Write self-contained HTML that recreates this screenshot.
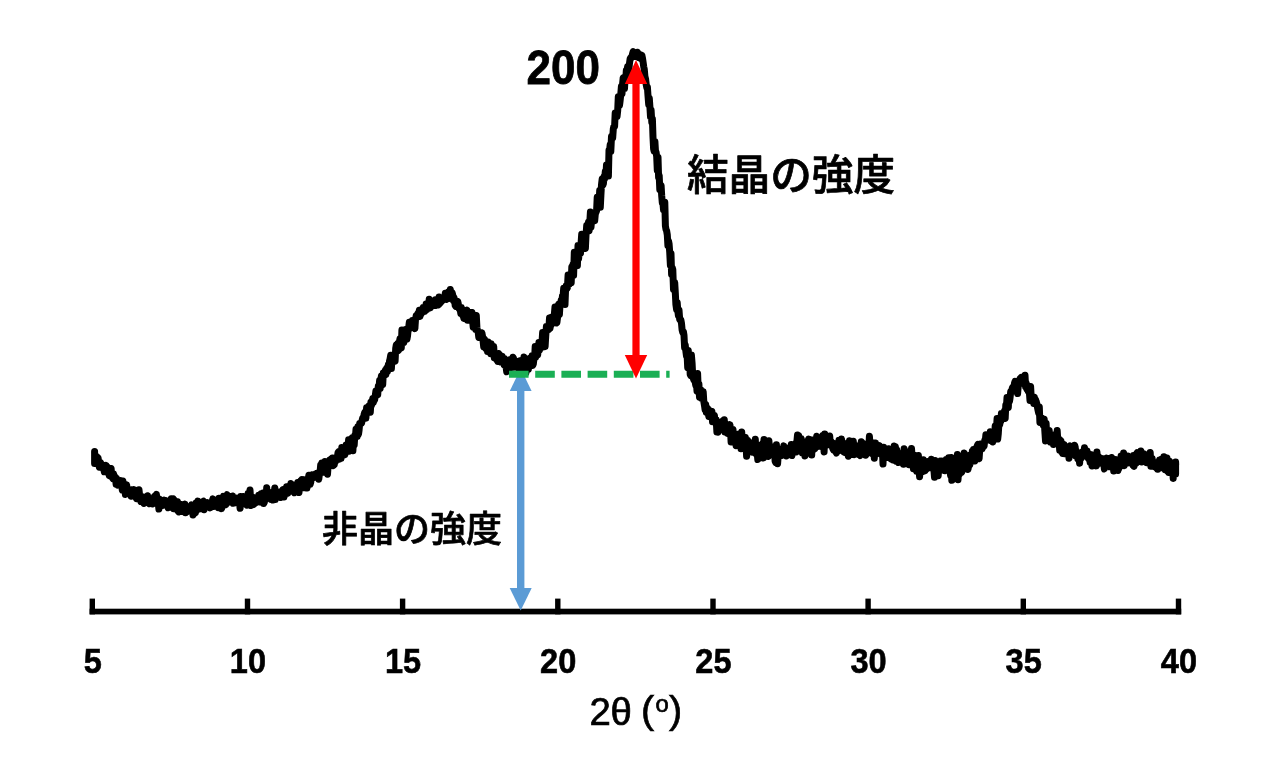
<!DOCTYPE html>
<html lang="ja">
<head>
<meta charset="utf-8">
<title>XRD</title>
<style>
html,body{margin:0;padding:0;background:#fff;}
body{width:1280px;height:777px;overflow:hidden;position:relative;font-family:"Liberation Sans","Noto Sans CJK JP",sans-serif;}
svg{position:absolute;left:0;top:0;display:block;}
.ax text{font-family:"Liberation Sans",sans-serif;font-weight:bold;font-size:35px;fill:#000;stroke:#000;stroke-width:0.6px;}
.jp{font-family:"Liberation Sans","Noto Sans CJK JP",sans-serif;font-weight:500;fill:#000;stroke:#000;stroke-width:0.7px;stroke-linejoin:round;}
</style>
</head>
<body>
<svg width="1280" height="777" viewBox="0 0 1280 777">
<rect width="1280" height="777" fill="#fff"/>
<!-- axis -->
<rect x="89.6" y="608.7" width="1091.6" height="5.7" fill="#000"/>
<rect x="89.6" y="598.6" width="5.4" height="15.8" fill="#000"/><rect x="244.8" y="598.6" width="5.4" height="15.8" fill="#000"/><rect x="399.9" y="598.6" width="5.4" height="15.8" fill="#000"/><rect x="555.1" y="598.6" width="5.4" height="15.8" fill="#000"/><rect x="710.3" y="598.6" width="5.4" height="15.8" fill="#000"/><rect x="865.4" y="598.6" width="5.4" height="15.8" fill="#000"/><rect x="1020.6" y="598.6" width="5.4" height="15.8" fill="#000"/><rect x="1175.8" y="598.6" width="5.4" height="15.8" fill="#000"/>
<g class="ax"><text transform="translate(92.7,672.6) scale(0.93,1)" text-anchor="middle">5</text><text transform="translate(247.9,672.6) scale(0.93,1)" text-anchor="middle">10</text><text transform="translate(403.0,672.6) scale(0.93,1)" text-anchor="middle">15</text><text transform="translate(558.2,672.6) scale(0.93,1)" text-anchor="middle">20</text><text transform="translate(713.4,672.6) scale(0.93,1)" text-anchor="middle">25</text><text transform="translate(868.5,672.6) scale(0.93,1)" text-anchor="middle">30</text><text transform="translate(1023.7,672.6) scale(0.93,1)" text-anchor="middle">35</text><text transform="translate(1178.9,672.6) scale(0.93,1)" text-anchor="middle">40</text></g>
<!-- blue arrow -->
<g fill="#5b9bd5">
<rect x="517" y="388" width="7.4" height="202"/>
<polygon points="520.7,368.6 531.6,391 509.8,391"/>
<polygon points="520.7,610.5 531.7,588 509.7,588"/>
</g>
<!-- curve -->
<path d="M94.6,451.5 94.6,463.5 95.0,458.0 95.6,459.3 96.2,458.0 96.9,456.6 97.5,458.8 98.1,457.9 98.7,462.1 99.3,467.2 100.0,462.2 100.6,462.7 101.2,467.2 101.8,467.7 102.4,467.7 103.1,465.1 103.7,468.7 104.3,471.7 104.9,465.8 105.5,469.4 106.2,465.4 106.8,468.1 107.4,466.9 108.0,472.8 108.6,470.1 109.3,475.7 109.9,475.9 110.5,475.4 111.1,468.4 111.7,475.4 112.4,477.6 113.0,478.6 113.6,473.8 114.2,477.7 114.8,476.6 115.5,477.6 116.1,484.2 116.7,478.6 117.3,481.6 117.9,485.1 118.6,480.8 119.2,482.8 119.8,484.0 120.4,484.3 121.0,480.6 121.7,485.3 122.3,490.0 122.9,481.0 123.5,489.3 124.1,487.3 124.8,485.3 125.4,494.4 126.0,490.8 126.6,484.8 127.2,489.4 127.9,491.5 128.5,489.4 129.1,492.6 129.7,490.6 130.3,493.4 131.0,496.3 131.6,489.8 132.2,493.0 132.8,491.2 133.4,493.5 134.1,489.6 134.7,491.9 135.3,493.5 135.9,497.5 136.5,498.7 137.2,490.9 137.8,493.0 138.4,498.1 139.0,489.8 139.6,495.2 140.3,496.7 140.9,501.5 141.5,499.9 142.1,496.8 142.7,496.9 143.4,497.5 144.0,503.5 144.6,497.3 145.2,497.9 145.8,500.2 146.5,498.8 147.1,498.7 147.7,495.8 148.3,499.6 148.9,498.3 149.6,503.7 150.2,502.2 150.8,500.1 151.4,502.5 152.0,499.3 152.7,504.0 153.3,500.6 153.9,502.6 154.5,496.6 155.1,502.1 155.8,495.5 156.4,494.4 157.0,500.3 157.6,498.4 158.2,502.1 158.9,509.1 159.5,499.1 160.1,500.0 160.7,503.0 161.3,504.1 162.0,502.1 162.6,502.2 163.2,505.4 163.8,505.0 164.4,500.1 165.1,503.5 165.7,504.0 166.3,500.6 166.9,505.1 167.5,501.6 168.2,507.8 168.8,505.4 169.4,505.2 170.0,503.1 170.6,504.8 171.3,498.7 171.9,501.7 172.5,506.9 173.1,498.7 173.7,508.8 174.4,500.3 175.0,508.8 175.6,503.6 176.2,509.1 176.8,507.1 177.5,501.7 178.1,511.1 178.7,511.9 179.3,507.0 179.9,506.5 180.6,507.0 181.2,504.4 181.8,511.4 182.4,506.1 183.0,507.8 183.7,505.5 184.3,506.2 184.9,504.1 185.5,512.7 186.1,508.1 186.8,512.0 187.4,508.9 188.0,506.7 188.6,508.0 189.2,507.3 189.9,509.3 190.5,508.1 191.1,508.4 191.7,504.9 192.3,506.8 193.0,515.0 193.6,507.1 194.2,505.5 194.8,509.9 195.4,513.1 196.1,503.1 196.7,506.9 197.3,505.2 197.9,501.1 198.5,509.3 199.2,506.5 199.8,506.6 200.4,503.7 201.0,507.6 201.6,504.0 202.3,505.2 202.9,501.8 203.5,501.3 204.1,509.7 204.7,503.3 205.4,505.9 206.0,504.7 206.6,503.2 207.2,502.8 207.8,506.5 208.5,503.3 209.1,503.7 209.7,504.1 210.3,507.9 210.9,506.2 211.6,505.0 212.2,501.7 212.8,498.9 213.4,506.6 214.0,506.6 214.7,502.7 215.3,504.9 215.9,505.6 216.5,505.7 217.1,505.9 217.8,501.1 218.4,507.7 219.0,498.2 219.6,505.3 220.2,504.0 220.9,505.2 221.5,508.6 222.1,507.2 222.7,498.2 223.3,496.4 224.0,504.8 224.6,498.6 225.2,501.9 225.8,504.8 226.4,496.3 227.1,494.7 227.7,502.7 228.3,502.0 228.9,500.9 229.5,501.9 230.2,498.8 230.8,496.5 231.4,501.1 232.0,498.3 232.6,496.0 233.3,503.3 233.9,501.4 234.5,502.9 235.1,498.2 235.7,499.3 236.4,498.1 237.0,498.4 237.6,502.1 238.2,498.8 238.8,502.6 239.5,502.6 240.1,508.3 240.7,496.6 241.3,504.4 241.9,501.0 242.6,501.3 243.2,496.4 243.8,499.7 244.4,503.8 245.0,501.0 245.7,501.5 246.3,500.2 246.9,505.2 247.5,501.1 248.1,493.6 248.8,498.8 249.4,494.4 250.0,489.9 250.6,499.3 251.2,505.6 251.9,501.2 252.5,496.9 253.1,497.6 253.7,504.6 254.3,501.1 255.0,500.5 255.6,499.9 256.2,500.0 256.8,502.4 257.4,501.3 258.1,499.9 258.7,495.3 259.3,500.5 259.9,496.2 260.5,502.1 261.2,493.8 261.8,497.5 262.4,497.8 263.0,493.1 263.6,503.5 264.3,502.4 264.9,495.6 265.5,499.7 266.1,498.2 266.7,487.7 267.4,497.4 268.0,496.1 268.6,496.5 269.2,492.3 269.8,494.9 270.5,495.0 271.1,499.5 271.7,496.4 272.3,495.0 272.9,500.1 273.6,492.7 274.2,493.1 274.8,487.9 275.4,499.5 276.0,497.2 276.7,496.8 277.3,495.8 277.9,493.6 278.5,493.8 279.1,492.0 279.8,492.0 280.4,492.7 281.0,497.6 281.6,494.1 282.2,491.7 282.9,489.7 283.5,489.4 284.1,496.9 284.7,492.9 285.3,491.2 286.0,489.6 286.6,486.7 287.2,490.1 287.8,493.2 288.4,488.6 289.1,488.9 289.7,488.7 290.3,489.6 290.9,483.5 291.5,488.0 292.2,485.6 292.8,491.4 293.4,485.3 294.0,489.8 294.6,492.8 295.3,486.1 295.9,484.9 296.5,487.4 297.1,486.4 297.7,482.6 298.4,487.4 299.0,492.6 299.6,484.3 300.2,484.2 300.8,480.9 301.5,485.4 302.1,479.6 302.7,479.7 303.3,487.8 303.9,479.8 304.6,486.4 305.2,487.6 305.8,482.8 306.4,483.5 307.0,488.1 307.7,480.1 308.3,478.3 308.9,475.2 309.5,479.7 310.1,484.4 310.8,482.1 311.4,474.9 312.0,474.8 312.6,475.5 313.2,477.9 313.9,475.7 314.5,476.7 315.1,476.5 315.7,473.9 316.3,474.3 317.0,474.7 317.6,473.2 318.2,474.8 318.8,479.2 319.4,474.1 320.1,471.7 320.7,464.9 321.3,471.9 321.9,463.0 322.5,464.5 323.2,472.2 323.8,471.2 324.4,467.7 325.0,461.6 325.6,466.0 326.3,464.4 326.9,468.7 327.5,474.2 328.1,466.3 328.7,462.2 329.4,460.3 330.0,463.9 330.6,463.0 331.2,459.0 331.8,463.1 332.5,458.0 333.1,465.8 333.7,465.1 334.3,464.7 334.9,458.5 335.6,461.6 336.2,458.7 336.8,457.2 337.4,456.8 338.0,452.7 338.7,451.6 339.3,459.3 339.9,455.1 340.5,456.0 341.1,458.4 341.8,447.6 342.4,450.6 343.0,453.5 343.6,453.7 344.2,450.2 344.9,454.8 345.5,451.1 346.1,445.1 346.7,445.5 347.3,451.3 348.0,449.3 348.6,439.7 349.2,451.2 349.8,447.6 350.4,449.6 351.1,442.3 351.7,441.8 352.3,437.8 352.9,450.7 353.5,439.5 354.2,445.1 354.8,435.5 355.4,437.4 356.0,429.2 356.6,432.8 357.3,436.6 357.9,426.7 358.5,434.2 359.1,430.0 359.7,423.4 360.4,424.0 361.0,422.9 361.6,423.1 362.2,420.0 362.8,417.7 363.5,418.4 364.1,414.5 364.7,412.3 365.3,415.8 365.9,418.2 366.6,407.7 367.2,412.4 367.8,408.7 368.4,406.3 369.0,412.1 369.7,405.6 370.3,412.2 370.9,402.2 371.5,405.5 372.1,401.8 372.8,398.5 373.4,402.5 374.0,398.3 374.6,400.0 375.2,396.2 375.9,390.9 376.5,393.4 377.1,392.7 377.7,394.9 378.3,386.3 379.0,388.4 379.6,380.5 380.2,388.4 380.8,380.3 381.4,376.1 382.1,381.6 382.7,384.8 383.3,373.1 383.9,373.4 384.5,373.4 385.2,370.4 385.8,374.9 386.4,368.8 387.0,367.7 387.6,371.5 388.3,364.8 388.9,368.1 389.5,361.2 390.1,358.9 390.7,355.2 391.4,368.6 392.0,358.6 392.6,359.6 393.2,357.2 393.8,356.7 394.5,355.1 395.1,361.2 395.7,348.3 396.3,345.0 396.9,346.0 397.6,343.5 398.2,350.7 398.8,349.9 399.4,341.7 400.0,338.8 400.7,341.9 401.3,347.9 401.9,330.0 402.5,342.5 403.1,335.0 403.8,342.6 404.4,333.1 405.0,335.3 405.6,329.5 406.2,330.7 406.9,339.3 407.5,336.1 408.1,330.2 408.7,327.4 409.3,322.3 410.0,327.5 410.6,328.0 411.2,326.8 411.8,325.7 412.4,320.5 413.1,323.7 413.7,322.8 414.3,327.2 414.9,328.5 415.5,319.3 416.2,315.7 416.8,317.7 417.4,314.5 418.0,313.2 418.6,315.2 419.3,310.4 419.9,316.6 420.5,313.1 421.1,314.1 421.7,311.8 422.4,309.1 423.0,307.7 423.6,310.3 424.2,308.6 424.8,311.4 425.5,310.1 426.1,304.1 426.7,309.7 427.3,303.4 427.9,306.1 428.6,307.1 429.2,299.3 429.8,308.0 430.4,307.9 431.0,306.2 431.7,304.8 432.3,304.7 432.9,301.9 433.5,304.5 434.1,303.0 434.8,305.4 435.4,299.7 436.0,305.4 436.6,304.7 437.2,303.2 437.9,301.8 438.5,305.0 439.1,297.1 439.7,303.7 440.3,302.5 441.0,301.9 441.6,301.5 442.2,298.1 442.8,298.4 443.4,300.0 444.1,299.0 444.7,298.1 445.3,293.3 445.9,298.1 446.5,299.3 447.2,298.7 447.8,296.6 448.4,292.1 449.0,298.4 449.6,295.6 450.3,289.6 450.9,297.0 451.5,292.2 452.1,292.7 452.7,294.8 453.4,300.5 454.0,297.5 454.6,300.4 455.2,305.5 455.8,306.3 456.5,302.9 457.1,303.5 457.7,301.3 458.3,303.9 458.9,308.4 459.6,309.3 460.2,309.3 460.8,313.6 461.4,307.5 462.0,311.3 462.7,315.4 463.3,315.6 463.9,318.4 464.5,316.3 465.1,314.0 465.8,317.4 466.4,312.3 467.0,310.2 467.6,320.2 468.2,318.1 468.9,320.2 469.5,312.3 470.1,318.5 470.7,318.1 471.3,317.7 472.0,312.5 472.6,321.2 473.2,327.1 473.8,325.7 474.4,322.3 475.1,325.4 475.7,329.4 476.3,315.4 476.9,327.3 477.5,330.9 478.2,332.3 478.8,337.4 479.4,335.9 480.0,333.3 480.6,334.2 481.3,337.3 481.9,332.8 482.5,336.1 483.1,341.2 483.7,346.8 484.4,339.1 485.0,340.7 485.6,342.9 486.2,348.8 486.8,344.1 487.5,351.4 488.1,342.0 488.7,346.2 489.3,346.9 489.9,351.8 490.6,353.7 491.2,343.7 491.8,346.9 492.4,352.8 493.0,349.3 493.7,346.4 494.3,357.7 494.9,356.1 495.5,356.6 496.1,353.1 496.8,360.0 497.4,355.2 498.0,361.4 498.6,353.5 499.2,354.2 499.9,359.2 500.5,355.8 501.1,362.1 501.7,360.7 502.3,356.2 503.0,360.7 503.6,359.3 504.2,364.9 504.8,358.7 505.4,359.9 506.1,367.1 506.7,371.7 507.3,370.9 507.9,363.0 508.5,363.9 509.2,369.7 509.8,362.9 510.4,359.5 511.0,364.3 511.6,365.8 512.3,360.6 512.9,357.3 513.5,358.2 514.1,367.2 514.7,361.3 515.4,364.0 516.0,365.6 516.6,367.4 517.2,363.4 517.8,367.0 518.5,361.2 519.1,363.5 519.7,360.7 520.3,369.7 520.9,364.8 521.6,361.7 522.2,363.1 522.8,363.3 523.4,366.9 524.0,356.9 524.7,358.9 525.3,361.2 525.9,373.0 526.5,366.0 527.1,361.1 527.8,364.1 528.4,369.4 529.0,359.4 529.6,358.4 530.2,364.5 530.9,361.0 531.5,361.3 532.1,355.8 532.7,365.5 533.3,364.0 534.0,358.6 534.6,358.4 535.2,346.4 535.8,356.9 536.4,352.6 537.1,354.5 537.7,354.6 538.3,349.3 538.9,342.6 539.5,350.2 540.2,344.4 540.8,344.9 541.4,342.5 542.0,342.4 542.6,332.6 543.3,346.9 543.9,341.4 544.5,344.0 545.1,346.7 545.7,336.5 546.4,326.6 547.0,329.4 547.6,326.4 548.2,328.3 548.8,329.6 549.5,318.1 550.1,328.0 550.7,317.4 551.3,325.0 551.9,321.6 552.6,319.2 553.2,319.1 553.8,315.4 554.4,313.8 555.0,306.9 555.7,314.3 556.3,323.0 556.9,322.6 557.5,317.8 558.1,313.1 558.8,304.2 559.4,314.5 560.0,304.7 560.6,303.1 561.2,300.2 561.9,300.6 562.5,295.8 563.1,296.1 563.7,288.3 564.3,290.6 565.0,304.5 565.6,288.7 566.2,285.8 566.8,288.6 567.4,287.9 568.1,275.0 568.7,278.8 569.3,284.1 569.9,278.3 570.5,275.6 571.2,282.8 571.8,267.0 572.4,270.1 573.0,264.6 573.6,275.5 574.3,252.2 574.9,258.6 575.5,257.9 576.1,263.9 576.7,262.0 577.4,265.6 578.0,245.5 578.6,258.7 579.2,250.8 579.8,247.1 580.5,253.4 581.1,242.9 581.7,234.2 582.3,243.6 582.9,235.1 583.6,239.0 584.2,243.9 584.8,241.9 585.4,248.4 586.0,235.4 586.7,225.4 587.3,228.5 587.9,225.8 588.5,222.1 589.1,230.8 589.8,222.2 590.4,212.1 591.0,227.2 591.6,220.3 592.2,221.6 592.9,218.4 593.5,220.1 594.1,214.7 594.7,220.7 595.3,214.0 596.0,212.2 596.6,210.7 597.2,197.3 597.8,203.7 598.4,201.3 599.1,202.4 599.7,190.5 600.3,207.3 600.9,195.3 601.5,184.6 602.2,178.9 602.8,185.2 603.4,183.6 604.0,176.8 604.6,179.0 605.3,171.5 605.9,176.0 606.5,165.0 607.1,166.2 607.7,169.4 608.4,176.1 609.0,150.2 609.6,150.3 610.2,144.7 610.8,151.7 611.5,136.5 612.1,137.7 612.7,137.7 613.3,128.9 613.9,126.2 614.6,126.3 615.2,113.0 615.8,114.0 616.4,117.0 617.0,116.8 617.7,110.7 618.3,96.7 618.9,101.1 619.5,105.5 620.1,100.8 620.8,94.1 621.4,86.6 622.0,93.8 622.6,83.8 623.2,77.7 623.9,77.4 624.5,88.5 625.1,78.6 625.7,80.8 626.3,70.6 627.0,74.5 627.6,66.5 628.2,66.2 628.8,71.0 629.4,64.0 630.1,59.0 630.7,57.6 631.3,57.0 631.9,57.5 632.5,53.9 633.2,51.5 633.8,53.9 634.4,54.2 635.0,54.3 635.6,56.3 636.3,54.5 636.9,55.4 637.5,52.2 638.1,55.5 638.7,57.7 639.4,55.6 640.0,54.9 640.6,55.1 641.2,58.6 641.8,55.1 642.5,58.3 643.1,62.3 643.7,66.6 644.3,69.5 644.9,76.3 645.6,79.1 646.2,84.5 646.8,87.5 647.4,87.0 648.0,95.7 648.7,104.4 649.3,98.3 649.9,106.7 650.5,116.7 651.1,110.1 651.8,122.4 652.4,119.0 653.0,137.1 653.6,148.9 654.2,151.3 654.9,141.4 655.5,151.7 656.1,152.2 656.7,156.6 657.3,170.4 658.0,157.2 658.6,177.3 659.2,175.4 659.8,189.5 660.4,186.4 661.1,185.4 661.7,195.7 662.3,202.8 662.9,202.6 663.5,209.8 664.2,207.9 664.8,202.3 665.4,226.0 666.0,229.4 666.6,230.7 667.3,234.9 667.9,245.6 668.5,240.9 669.1,244.0 669.7,251.9 670.4,265.2 671.0,253.6 671.6,274.5 672.2,267.6 672.8,269.5 673.5,289.3 674.1,285.5 674.7,282.5 675.3,292.6 675.9,304.5 676.6,309.5 677.2,302.4 677.8,310.7 678.4,315.7 679.0,310.1 679.7,319.5 680.3,320.2 680.9,320.1 681.5,323.4 682.1,329.9 682.8,332.6 683.4,331.7 684.0,335.3 684.6,347.7 685.2,344.7 685.9,351.5 686.5,356.0 687.1,354.7 687.7,367.7 688.3,350.6 689.0,363.2 689.6,358.5 690.2,374.4 690.8,375.6 691.4,355.0 692.1,363.4 692.7,375.6 693.3,378.4 693.9,380.1 694.5,377.2 695.2,382.2 695.8,385.2 696.4,382.7 697.0,390.9 697.6,373.4 698.3,392.0 698.9,384.0 699.5,397.0 700.1,391.8 700.7,389.6 701.4,398.2 702.0,392.5 702.6,393.9 703.2,391.7 703.8,401.5 704.5,405.6 705.1,409.7 705.7,404.6 706.3,412.1 706.9,407.8 707.6,408.3 708.2,412.9 708.8,416.4 709.4,410.3 710.0,411.8 710.7,413.2 711.3,415.3 711.9,411.4 712.5,421.8 713.1,415.7 713.8,420.8 714.4,415.4 715.0,421.9 715.6,422.8 716.2,419.8 716.9,432.0 717.5,425.0 718.1,432.2 718.7,429.0 719.3,422.3 720.0,424.2 720.6,428.5 721.2,427.4 721.8,427.9 722.4,427.0 723.1,420.7 723.7,428.3 724.3,419.8 724.9,432.0 725.5,427.5 726.2,428.0 726.8,430.7 727.4,433.4 728.0,426.1 728.6,425.1 729.3,428.6 729.9,424.6 730.5,429.9 731.1,442.0 731.7,430.3 732.4,438.5 733.0,429.6 733.6,437.6 734.2,435.1 734.8,436.7 735.5,439.9 736.1,445.7 736.7,438.9 737.3,438.9 737.9,434.3 738.6,441.8 739.2,438.3 739.8,443.7 740.4,440.1 741.0,448.8 741.7,432.0 742.3,440.2 742.9,446.2 743.5,440.9 744.1,439.3 744.8,442.3 745.4,437.5 746.0,445.0 746.6,456.3 747.2,450.7 747.9,440.6 748.5,442.0 749.1,444.6 749.7,451.6 750.3,443.3 751.0,444.3 751.6,452.0 752.2,452.2 752.8,446.8 753.4,443.6 754.1,441.9 754.7,446.2 755.3,439.2 755.9,453.6 756.5,447.3 757.2,452.8 757.8,459.6 758.4,456.4 759.0,445.5 759.6,455.1 760.3,456.5 760.9,447.4 761.5,446.5 762.1,450.5 762.7,443.4 763.4,458.0 764.0,439.6 764.6,445.7 765.2,449.7 765.8,449.9 766.5,451.8 767.1,452.3 767.7,450.0 768.3,456.4 768.9,440.8 769.6,451.0 770.2,447.6 770.8,451.6 771.4,452.1 772.0,446.8 772.7,448.1 773.3,455.0 773.9,453.0 774.5,448.2 775.1,461.2 775.8,462.6 776.4,444.7 777.0,453.2 777.6,463.8 778.2,455.6 778.9,453.0 779.5,451.0 780.1,449.4 780.7,451.0 781.3,449.3 782.0,455.4 782.6,449.9 783.2,449.6 783.8,445.9 784.4,451.2 785.1,447.1 785.7,450.3 786.3,456.0 786.9,452.6 787.5,453.1 788.2,452.2 788.8,450.6 789.4,449.6 790.0,448.5 790.6,453.4 791.3,444.4 791.9,455.6 792.5,449.1 793.1,445.0 793.7,445.8 794.4,444.5 795.0,448.1 795.6,443.6 796.2,452.0 796.8,442.5 797.5,435.1 798.1,442.1 798.7,435.8 799.3,445.0 799.9,450.1 800.6,448.0 801.2,438.4 801.8,441.1 802.4,453.1 803.0,446.0 803.7,444.5 804.3,449.4 804.9,456.0 805.5,450.4 806.1,444.8 806.8,445.8 807.4,447.0 808.0,441.1 808.6,439.0 809.2,444.3 809.9,439.5 810.5,443.7 811.1,444.5 811.7,455.1 812.3,439.9 813.0,443.4 813.6,443.2 814.2,446.1 814.8,449.0 815.4,441.7 816.1,440.1 816.7,436.2 817.3,439.6 817.9,446.6 818.5,444.2 819.2,439.2 819.8,442.2 820.4,444.2 821.0,446.4 821.6,441.2 822.3,442.9 822.9,435.5 823.5,438.7 824.1,451.9 824.7,433.9 825.4,442.8 826.0,445.5 826.6,442.8 827.2,440.8 827.8,444.4 828.5,444.8 829.1,444.5 829.7,436.0 830.3,444.3 830.9,441.1 831.6,442.6 832.2,446.5 832.8,448.6 833.4,449.9 834.0,443.4 834.7,450.3 835.3,451.7 835.9,451.6 836.5,453.0 837.1,445.8 837.8,445.8 838.4,450.7 839.0,440.3 839.6,447.9 840.2,444.5 840.9,445.4 841.5,438.9 842.1,443.0 842.7,447.2 843.3,451.6 844.0,452.2 844.6,447.1 845.2,446.7 845.8,443.7 846.4,449.6 847.1,446.5 847.7,450.7 848.3,456.2 848.9,447.7 849.5,440.8 850.2,443.9 850.8,441.1 851.4,442.5 852.0,454.4 852.6,449.4 853.3,441.2 853.9,451.6 854.5,454.6 855.1,446.9 855.7,445.5 856.4,447.2 857.0,450.2 857.6,451.9 858.2,454.6 858.8,454.7 859.5,454.6 860.1,455.5 860.7,452.1 861.3,441.7 861.9,448.3 862.6,450.3 863.2,446.9 863.8,453.0 864.4,446.9 865.0,444.1 865.7,455.3 866.3,451.5 866.9,449.3 867.5,452.6 868.1,453.1 868.8,449.7 869.4,436.3 870.0,444.8 870.6,445.8 871.2,443.4 871.9,449.1 872.5,453.9 873.1,446.0 873.7,443.0 874.3,458.2 875.0,446.6 875.6,443.0 876.2,450.2 876.8,451.3 877.4,446.0 878.1,453.3 878.7,447.4 879.3,445.5 879.9,450.8 880.5,453.8 881.2,447.2 881.8,451.9 882.4,450.0 883.0,464.0 883.6,447.3 884.3,457.4 884.9,450.7 885.5,450.4 886.1,454.6 886.7,455.5 887.4,457.4 888.0,453.1 888.6,448.8 889.2,449.3 889.8,454.4 890.5,454.9 891.1,458.9 891.7,454.4 892.3,457.6 892.9,460.0 893.6,453.7 894.2,446.0 894.8,447.7 895.4,446.6 896.0,461.2 896.7,449.8 897.3,459.9 897.9,457.0 898.5,462.6 899.1,459.5 899.8,454.4 900.4,454.2 901.0,455.8 901.6,456.5 902.2,453.4 902.9,456.1 903.5,464.3 904.1,448.8 904.7,458.5 905.3,453.3 906.0,458.8 906.6,462.3 907.2,458.3 907.8,462.6 908.4,451.7 909.1,464.8 909.7,457.0 910.3,463.1 910.9,461.3 911.5,448.4 912.2,457.3 912.8,462.2 913.4,468.8 914.0,463.0 914.6,463.1 915.3,455.4 915.9,469.2 916.5,471.2 917.1,463.0 917.7,462.1 918.4,455.6 919.0,467.8 919.6,476.7 920.2,467.5 920.8,470.4 921.5,467.2 922.1,460.3 922.7,471.7 923.3,459.7 923.9,464.9 924.6,467.6 925.2,470.8 925.8,468.9 926.4,469.0 927.0,463.8 927.7,461.5 928.3,468.1 928.9,464.5 929.5,461.8 930.1,462.0 930.8,465.7 931.4,459.2 932.0,461.5 932.6,460.1 933.2,468.7 933.9,469.8 934.5,477.3 935.1,460.6 935.7,464.5 936.3,472.0 937.0,466.6 937.6,466.0 938.2,475.7 938.8,465.9 939.4,462.0 940.1,461.2 940.7,469.1 941.3,469.0 941.9,461.0 942.5,462.9 943.2,470.2 943.8,470.4 944.4,464.6 945.0,470.7 945.6,470.5 946.3,459.4 946.9,466.4 947.5,469.9 948.1,465.2 948.7,457.8 949.4,466.6 950.0,471.6 950.6,475.5 951.2,457.5 951.8,480.3 952.5,462.4 953.1,472.2 953.7,473.4 954.3,472.1 954.9,467.9 955.6,461.5 956.2,469.8 956.8,463.2 957.4,454.4 958.0,479.7 958.7,469.4 959.3,474.4 959.9,461.2 960.5,472.3 961.1,472.6 961.8,472.1 962.4,464.3 963.0,458.4 963.6,462.9 964.2,453.0 964.9,455.0 965.5,462.9 966.1,457.5 966.7,460.8 967.3,460.6 968.0,469.5 968.6,466.1 969.2,459.5 969.8,464.7 970.4,455.1 971.1,456.5 971.7,461.5 972.3,451.2 972.9,454.8 973.5,449.4 974.2,455.1 974.8,461.1 975.4,449.7 976.0,453.2 976.6,447.5 977.3,445.6 977.9,444.5 978.5,455.5 979.1,458.8 979.7,449.9 980.4,444.0 981.0,449.6 981.6,444.5 982.2,448.8 982.8,446.0 983.5,445.4 984.1,446.2 984.7,440.6 985.3,440.8 985.9,434.7 986.6,439.5 987.2,434.9 987.8,439.6 988.4,435.6 989.0,439.4 989.7,440.2 990.3,431.8 990.9,433.7 991.5,432.5 992.1,438.8 992.8,442.0 993.4,437.8 994.0,432.2 994.6,438.8 995.2,426.0 995.9,437.3 996.5,427.8 997.1,418.4 997.7,439.0 998.3,433.6 999.0,422.0 999.6,425.2 1000.2,422.0 1000.8,421.5 1001.4,413.4 1002.1,414.7 1002.7,417.4 1003.3,414.7 1003.9,416.9 1004.5,411.0 1005.2,418.4 1005.8,405.0 1006.4,407.5 1007.0,397.6 1007.6,398.8 1008.3,407.5 1008.9,397.1 1009.5,401.4 1010.1,397.4 1010.7,391.7 1011.4,392.2 1012.0,389.3 1012.6,387.3 1013.2,390.4 1013.8,388.8 1014.5,383.2 1015.1,381.4 1015.7,385.5 1016.3,383.6 1016.9,387.6 1017.6,393.6 1018.2,386.2 1018.8,382.4 1019.4,381.6 1020.0,378.6 1020.7,378.1 1021.3,377.4 1021.9,379.4 1022.5,379.0 1023.1,383.3 1023.8,378.6 1024.4,379.3 1025.0,375.2 1025.6,386.7 1026.2,383.0 1026.9,389.2 1027.5,386.7 1028.1,391.0 1028.7,385.9 1029.3,391.3 1030.0,400.5 1030.6,386.5 1031.2,397.2 1031.8,400.7 1032.4,397.1 1033.1,399.9 1033.7,403.4 1034.3,397.2 1034.9,403.0 1035.5,399.4 1036.2,401.7 1036.8,403.5 1037.4,407.1 1038.0,409.9 1038.6,412.8 1039.3,407.0 1039.9,422.4 1040.5,420.7 1041.1,420.7 1041.7,417.9 1042.4,420.6 1043.0,424.7 1043.6,425.9 1044.2,419.2 1044.8,430.6 1045.5,440.9 1046.1,423.2 1046.7,435.9 1047.3,434.5 1047.9,433.5 1048.6,440.1 1049.2,430.5 1049.8,436.4 1050.4,442.1 1051.0,435.9 1051.7,435.4 1052.3,437.9 1052.9,436.1 1053.5,444.5 1054.1,434.9 1054.8,442.6 1055.4,434.4 1056.0,442.7 1056.6,440.1 1057.2,430.6 1057.9,441.8 1058.5,438.2 1059.1,441.4 1059.7,450.3 1060.3,440.1 1061.0,441.0 1061.6,451.9 1062.2,447.1 1062.8,453.5 1063.4,449.0 1064.1,444.4 1064.7,448.1 1065.3,453.8 1065.9,452.9 1066.5,449.3 1067.2,449.7 1067.8,449.3 1068.4,447.6 1069.0,458.3 1069.6,450.5 1070.3,445.9 1070.9,448.9 1071.5,454.1 1072.1,454.0 1072.7,450.9 1073.4,448.9 1074.0,452.1 1074.6,445.2 1075.2,447.0 1075.8,456.1 1076.5,450.9 1077.1,454.8 1077.7,458.6 1078.3,456.4 1078.9,454.0 1079.6,463.2 1080.2,457.2 1080.8,453.1 1081.4,458.0 1082.0,456.9 1082.7,451.8 1083.3,456.0 1083.9,455.3 1084.5,447.8 1085.1,455.8 1085.8,455.7 1086.4,455.4 1087.0,450.6 1087.6,456.5 1088.2,458.2 1088.9,459.2 1089.5,454.2 1090.1,462.2 1090.7,454.6 1091.3,459.2 1092.0,466.0 1092.6,457.6 1093.2,458.6 1093.8,465.6 1094.4,459.4 1095.1,459.9 1095.7,462.2 1096.3,465.9 1096.9,451.9 1097.5,458.0 1098.2,457.3 1098.8,457.0 1099.4,458.1 1100.0,458.2 1100.6,463.2 1101.3,458.1 1101.9,462.5 1102.5,463.7 1103.1,458.8 1103.7,462.6 1104.4,469.0 1105.0,463.4 1105.6,459.3 1106.2,461.7 1106.8,458.1 1107.5,463.2 1108.1,465.7 1108.7,458.5 1109.3,461.1 1109.9,466.8 1110.6,459.9 1111.2,462.8 1111.8,457.6 1112.4,458.5 1113.0,459.8 1113.7,471.1 1114.3,460.3 1114.9,459.8 1115.5,459.6 1116.1,461.3 1116.8,464.8 1117.4,462.8 1118.0,470.6 1118.6,462.9 1119.2,468.1 1119.9,463.2 1120.5,464.5 1121.1,455.9 1121.7,461.5 1122.3,461.7 1123.0,461.0 1123.6,453.0 1124.2,465.7 1124.8,460.3 1125.4,460.0 1126.1,460.7 1126.7,460.7 1127.3,463.2 1127.9,456.0 1128.5,457.2 1129.2,462.2 1129.8,461.4 1130.4,459.0 1131.0,458.0 1131.6,456.8 1132.3,459.9 1132.9,465.0 1133.5,455.6 1134.1,466.4 1134.7,463.5 1135.4,458.1 1136.0,463.3 1136.6,453.8 1137.2,452.7 1137.8,454.6 1138.5,458.3 1139.1,458.6 1139.7,457.8 1140.3,460.4 1140.9,451.0 1141.6,462.1 1142.2,454.0 1142.8,457.2 1143.4,458.3 1144.0,455.1 1144.7,454.3 1145.3,455.8 1145.9,460.1 1146.5,462.7 1147.1,462.7 1147.8,456.2 1148.4,457.2 1149.0,456.8 1149.6,462.7 1150.2,452.4 1150.9,466.3 1151.5,459.3 1152.1,458.2 1152.7,463.1 1153.3,466.2 1154.0,463.4 1154.6,466.6 1155.2,462.9 1155.8,467.7 1156.4,468.0 1157.1,462.6 1157.7,469.3 1158.3,464.1 1158.9,464.1 1159.5,460.1 1160.2,463.0 1160.8,467.7 1161.4,459.2 1162.0,467.7 1162.6,466.8 1163.3,466.8 1163.9,456.8 1164.5,466.0 1165.1,469.6 1165.7,464.1 1166.4,468.0 1167.0,458.0 1167.6,471.2 1168.2,465.8 1168.8,472.5 1169.5,461.2 1170.1,471.9 1170.7,468.0 1171.3,472.4 1171.9,465.1 1172.6,466.4 1173.2,478.4 1173.8,465.4 1174.4,465.9 1175.0,467.6 1175.7,464.4 1175.6,462.0 1175.6,474.0" fill="none" stroke="#000" stroke-width="7" stroke-linejoin="round" stroke-linecap="round"/>
<!-- green dashed -->
<line x1="509" y1="374.2" x2="669.6" y2="374.2" stroke="#1aaf54" stroke-width="7" stroke-dasharray="19.6 6.6"/>
<!-- red arrow -->
<g fill="#ff0000">
<rect x="632.4" y="82" width="7.2" height="275"/>
<polygon points="636,60 647.2,84 624.8,84"/>
<polygon points="636,378.5 647.2,355 624.8,355"/>
</g>
<!-- labels -->
<text x="526.6" y="83.9" textLength="73.4" lengthAdjust="spacingAndGlyphs" style="font-family:'Liberation Sans',sans-serif;font-weight:bold;font-size:48.5px;fill:#000;stroke:#000;stroke-width:0.8px">200</text>
<text class="jp" x="687" y="190" style="font-size:41.6px">結晶の強度</text>
<text class="jp" x="322" y="542" style="font-size:36px">非晶の強度</text>
<text y="724.6" style="font-family:'Liberation Sans',sans-serif;font-size:38.4px;fill:#000;stroke:#000;stroke-width:0.7px"><tspan x="589.6">2</tspan><tspan x="610.4">θ</tspan><tspan> </tspan><tspan x="641" y="723.2" font-size="39.6">(</tspan><tspan x="655.4" y="712.2" font-size="23.8">o</tspan><tspan x="669" y="723.2" font-size="39.6">)</tspan></text>
</svg>
</body>
</html>
